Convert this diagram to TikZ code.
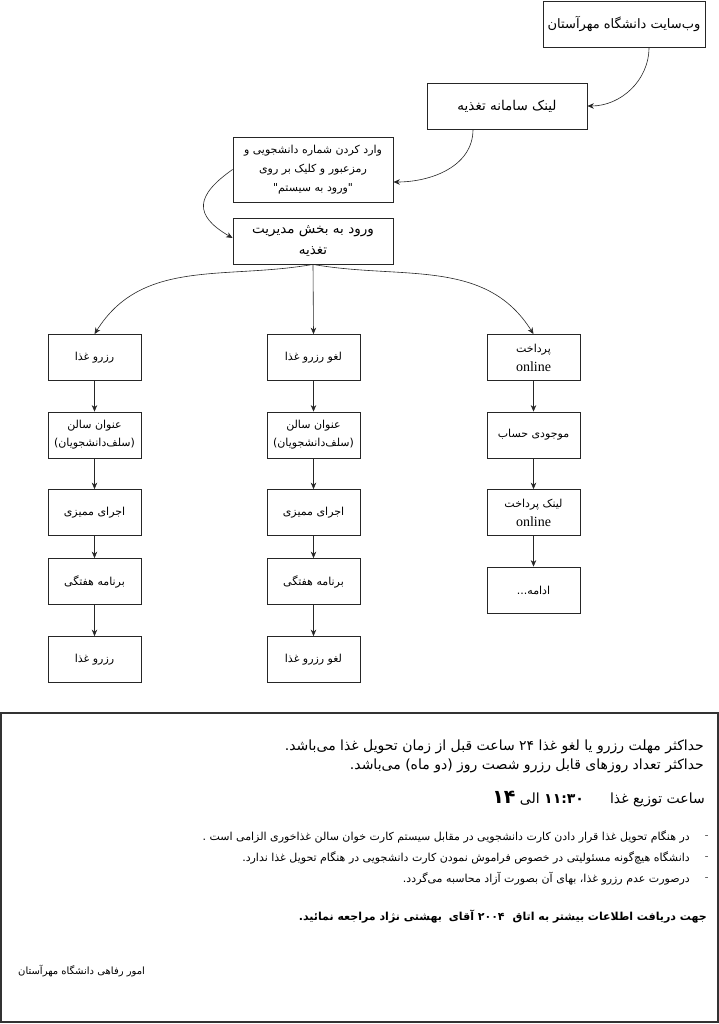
\documentclass[tikz,border=0pt]{standalone}
\usepackage{fontspec}
\usetikzlibrary{arrows.meta}
\TeXXeTstate=1
\newfontfamily\farsifont[Script=Arabic]{DejaVu Sans}
\newfontfamily\latinserif{Liberation Serif}
\newcommand\rtl[1]{{\farsifont\beginR #1\endR}}
\newcommand\onl{{\latinserif\fontsize{14}{17}\selectfont online}}
\tikzset{
  box/.style={draw=black!85, line width=0.8pt, inner sep=0pt, align=center, minimum width=160pt, minimum height=46pt, font=\fontsize{11}{15}\selectfont},
  colbox/.style={box, minimum width=93pt, minimum height=46pt, font=\fontsize{11}{18}\selectfont},
  arr/.style={-{Stealth[length=6.5pt,width=5.5pt]}, line width=0.6pt, draw=black!85},
  txt/.style={inner sep=0pt, anchor=east}
}
\begin{document}
\begin{tikzpicture}[x=1pt,y=-1pt]
\useasboundingbox (0,0) rectangle (719,1024);
\fill[white] (0,0) rectangle (719,1024);
% top chain
\node[box, minimum width=162pt, font=\fontsize{13}{15}\selectfont] (b1) at (624,24) {\rtl{وب‌سایت دانشگاه مهرآستان}};
\node[box, font=\fontsize{13.5}{15}\selectfont] (b2) at (507,106) {\rtl{لینک سامانه تغذیه}};
\node[box, minimum height=65pt, font=\fontsize{11}{19}\selectfont] (b3) at (313,169.5) {\rtl{وارد کردن شماره دانشجویی و}\\\rtl{رمزعبور و کلیک بر روی}\\\rtl{"ورود به سیستم"}};
\node[box, font=\fontsize{13.5}{21}\selectfont] (b4) at (313,241) {\rtl{ورود به بخش مدیریت}\\\rtl{تغذیه}};
\draw[arr] ([xshift=25pt]b1.south) to[out=-90,in=0] (b2.east);
\draw[arr] ([xshift=-34pt]b2.south) to[out=-90,in=0] ([yshift=-12.5pt]b3.east);
\draw[arr] (b3.west) to[out=215,in=150,looseness=1.7] ([yshift=3pt]b4.west);
% columns
\node[colbox] (l1) at (94.5,357.5) {\rtl{رزرو غذا}};
\node[colbox] (l2) at (94.5,435) {\rtl{عنوان سالن}\\\rtl{(سلف‌دانشجویان)}};
\node[colbox] (l3) at (94.5,512.5) {\rtl{اجرای ممیزی}};
\node[colbox] (l4) at (94.5,581.5) {\rtl{برنامه هفتگی}};
\node[colbox] (l5) at (94.5,659.5) {\rtl{رزرو غذا}};
\node[colbox] (m1) at (313.5,357.5) {\rtl{لغو رزرو غذا}};
\node[colbox] (m2) at (313.5,435) {\rtl{عنوان سالن}\\\rtl{(سلف‌دانشجویان)}};
\node[colbox] (m3) at (313.5,512.5) {\rtl{اجرای ممیزی}};
\node[colbox] (m4) at (313.5,581.5) {\rtl{برنامه هفتگی}};
\node[colbox] (m5) at (313.5,659.5) {\rtl{لغو رزرو غذا}};
\node[colbox, font=\fontsize{11}{19}\selectfont] (r1) at (533.5,357.5) {\rtl{پرداخت}\\\onl};
\node[colbox] (r2) at (533.5,435) {\rtl{موجودی حساب}};
\node[colbox, font=\fontsize{11}{19}\selectfont] (r3) at (533.5,512.5) {\rtl{لینک پرداخت}\\\onl};
\node[colbox] (r4) at (533.5,590) {\rtl{ادامه...}};
\draw[arr] (b4.south) to[out=190,in=58] (l1.north);
\draw[arr] (b4.south) -- (m1.north);
\draw[arr] (b4.south) to[out=-10,in=122] (r1.north);
\foreach \c in {l,m}{
  \draw[arr] (\c1) -- (\c2);
  \draw[arr] (\c2) -- (\c3);
  \draw[arr] (\c3) -- (\c4);
  \draw[arr] (\c4) -- (\c5);
}
\draw[arr] (r1) -- (r2);
\draw[arr] (r2) -- (r3);
\draw[arr] (r3) -- (r4);
% bottom notice
\node[draw=black!80, line width=1.2pt, minimum width=717pt, minimum height=309pt, inner sep=0pt] (frame) at (359.5,867.5) {};
\node[txt, font=\fontsize{14}{16}\selectfont] (t1) at (704,747) {\rtl{حداکثر مهلت رزرو یا لغو غذا ۲۴ ساعت قبل از زمان تحویل غذا می‌باشد.}};
\node[txt, font=\fontsize{14}{16}\selectfont] (t2) at (704,766) {\rtl{حداکثر تعداد روزهای قابل رزرو شصت روز (دو ماه) می‌باشد.}};
\node[txt, font=\fontsize{14}{16}\selectfont] (t3) at (705,799) {\rtl{ساعت توزیع غذا\hspace*{26pt}{\bfseries ۱۱:۳۰} الی {\bfseries\fontsize{19}{20}\selectfont ۱۴}}};
\node[txt, font=\fontsize{11}{12}\selectfont] (d1) at (709,837) {-};
\node[txt, font=\fontsize{11}{12}\selectfont] (d2) at (709,858) {-};
\node[txt, font=\fontsize{11}{12}\selectfont] (d3) at (709,879) {-};
\node[txt, font=\fontsize{11}{12}\selectfont] (u1) at (690,837) {\rtl{در هنگام تحویل غذا قرار دادن کارت دانشجویی در مقابل سیستم کارت خوان سالن غذاخوری الزامی است .}};
\node[txt, font=\fontsize{11}{12}\selectfont] (u2) at (690,858) {\rtl{دانشگاه هیچ‌گونه مسئولیتی در خصوص فراموش نمودن کارت دانشجویی در هنگام تحویل غذا ندارد.}};
\node[txt, font=\fontsize{11}{12}\selectfont] (u3) at (690,879) {\rtl{درصورت عدم رزرو غذا، بهای آن بصورت آزاد محاسبه می‌گردد.}};
\node[txt, font=\bfseries\fontsize{11}{14}\selectfont] (t4) at (707,917) {\rtl{جهت دریافت اطلاعات بیشتر به اتاق\hspace*{8pt}۲۰۰۴ آقای\hspace*{3pt} بهشتی نژاد مراجعه نمائید.}};
\node[inner sep=0pt, anchor=west, font=\fontsize{10}{11}\selectfont] (t5) at (18,971) {\rtl{امور رفاهی دانشگاه مهرآستان}};
\end{tikzpicture}
\end{document}
